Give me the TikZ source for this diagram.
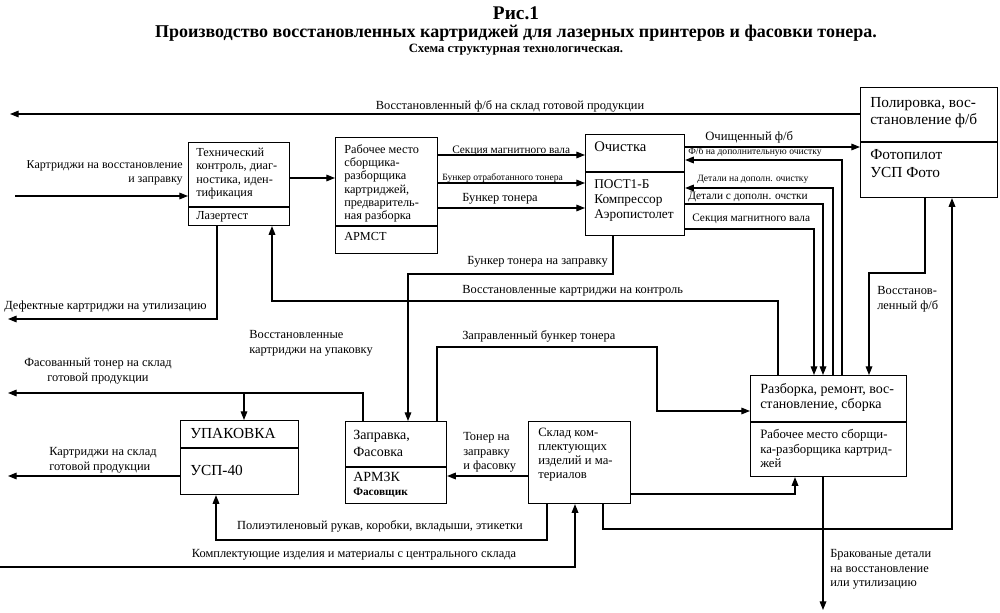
\documentclass[tikz,border=0pt]{standalone}
\usepackage{fontspec}
\setmainfont{Liberation Serif}
\usetikzlibrary{arrows.meta}
\newcommand{\fs}[2]{\fontsize{#1}{#2}\selectfont}
\newcommand{\divider}[2]{ \draw[wire] (#1.west |- 0,#2) -- (#1.east |- 0,#2);}
\tikzset{
  box/.style 2 args={draw, line width=0.85pt, anchor=north west, inner sep=0pt, minimum width=#1*0.75pt, minimum height=#2*0.75pt},
  btext/.style={anchor=north west, inner sep=0pt, align=left, font=\fs{9.2}{10}},
  lbl/.style={inner sep=0pt, font=\fs{9.3}{11}},
  tiny/.style={inner sep=0pt, font=\fs{7.2}{8.5}},
  wire/.style={line width=0.85pt},
  flow/.style={line width=0.85pt, -{Triangle[length=6.5pt,width=5pt]}},
}
\begin{document}
\begin{tikzpicture}[x=0.75pt,y=-0.75pt]
        \useasboundingbox (0,0) rectangle (1000,613);
        % title
        \node[font=\fs{14.5}{16}\bfseries] (fig) at (516,13) {Рис.1};
        \node[font=\fs{13.5}{15}\bfseries] (ttl) at (516,33) {Производство восстановленных картриджей для лазерных принтеров и фасовки тонера.};
        \node[font=\fs{9.5}{11}\bfseries] (sub) at (516,50) {Схема структурная технологическая.};

        % boxes
        \node[box={101}{83}] (ctrl) at (188,142) {};
        \divider{ctrl}{207}
        \node[btext] (ctrlT) at (196,148) {Технический\\контроль, диаг-\\ностика, иден-\\тификация};
        \node[btext] (ctrlB) at (196,211) {Лазертест};

        \node[box={102}{116}] (dis) at (335,137) {};
        \divider{dis}{226}
        \node[btext] (disT) at (344,144) {Рабочее место\\сборщика-\\разборщика\\картриджей,\\предваритель-\\ная разборка};
        \node[btext] (disB) at (344,232) {АРМСТ};

        \node[box={99}{101}] (clean) at (585,134) {};
        \divider{clean}{172}
        \node[btext, font=\fs{11}{13}] (cleanT) at (594,142) {Очистка};
        \node[btext, font=\fs{10}{11.3}] (cleanB) at (594,179) {ПОСТ1-Б\\Компрессор\\Аэропистолет};

        \node[box={137}{110}] (pol) at (860,87) {};
        \divider{pol}{142}
        \node[btext, font=\fs{11.5}{13}] (polT) at (870,97) {Полировка, вос-\\становление ф/б};
        \node[btext, font=\fs{11.5}{13.5}] (polB) at (870,149) {Фотопилот\\УСП Фото};

        \node[box={156}{101}] (rep) at (750,375) {};
        \divider{rep}{422}
        \node[btext, font=\fs{10.5}{11.3}] (repT) at (760,383) {Разборка, ремонт, вос-\\становление, сборка};
        \node[btext, font=\fs{9.6}{11}] (repB) at (760,429) {Рабочее место сборщи-\\ка-разборщика картрид-\\жей};

        \node[box={118}{74}] (pack) at (180,420) {};
        \divider{pack}{448}
        \node[btext, font=\fs{11.5}{13}] (packT) at (190,428) {УПАКОВКА};
        \node[btext, font=\fs{11.5}{13}] (packB) at (190,465) {УСП-40};

        \node[box={101}{82}] (fill) at (345,421) {};
        \divider{fill}{467}
        \node[btext, font=\fs{10.5}{12.5}] (fillT) at (353,430) {Заправка,\\Фасовка};
        \node[btext, font=\fs{10.5}{12}] (fillB) at (353,472) {АРМЗК};
        \node[btext, font=\fs{8.5}{9}\bfseries] (fillC) at (353,488) {Фасовщик};

        \node[box={102}{82}] (store) at (528,421) {};
        \node[btext, font=\fs{9.5}{10.5}] (storeT) at (538,428) {Склад ком-\\плектующих\\изделий и ма-\\териалов};

        % free ends
        \coordinate (outTop) at (10,114);
        \coordinate (inCart) at (15,196);
        \coordinate (outDef) at (8,319);
        \coordinate (outToner) at (8,393);
        \coordinate (split) at (244,393);
        \coordinate (outCart) at (8,476);
        \coordinate (inMat) at (0,567);
        \coordinate (outRej) at (823,610);

        % flows
        \draw[flow] (pol.west |- 0,114) -- (outTop);
        \draw[flow] (inCart) -- (ctrl.west |- inCart);
        \draw[flow] (ctrl.east |- 0,178) -- (dis.west |- 0,178);
        \draw[flow] (ctrl.south -| 217,0) |- (outDef);
        \draw[flow] (rep.north -| 778,0) |- (272,301) -- (ctrl.south -| 272,0);
        \draw[flow] (dis.east |- 0,155) -- (clean.west |- 0,155);
        \draw[flow] (dis.east |- 0,183) -- (clean.west |- 0,183);
        \draw[flow] (dis.east |- 0,208) -- (clean.west |- 0,208);
        \draw[flow] (clean.south -| 613,0) |- (408,274) -- (fill.north -| 408,0);
        \draw[flow] (clean.east |- 0,147) -- (pol.west |- 0,147);
        \draw[flow] (rep.north -| 842,0) |- (clean.east |- 0,160);
        \draw[flow] (rep.north -| 833,0) |- (clean.east |- 0,188);
        \draw[flow] (clean.east |- 0,204) -| (rep.north -| 823,0);
        \draw[flow] (clean.east |- 0,229) -| (rep.north -| 814,0);
        \draw[flow] (pol.south -| 925,0) |- (869,273) -- (rep.north -| 869,0);
        \draw[flow] (store.south -| 603,0) |- (952,529) -- (pol.south -| 952,0);
        \draw[flow] (store.east |- 0,494) -| (rep.south -| 795,0);
        \draw[flow] (rep.south -| 823,0) -- (outRej);
        \draw[flow] (fill.north -| 437,0) |- (657,347) |- (rep.west |- 0,411);
        \draw[flow] (store.west |- 0,476) -- (fill.east |- 0,476);
        \draw[flow] (fill.north -| 363,0) |- (outToner);
        \draw[flow] (split) -- (pack.north -| split);
        \draw[flow] (pack.west |- 0,476) -- (outCart);
        \draw[flow] (store.south -| 547,0) |- (216,540) -- (pack.south -| 216,0);
        \draw[flow] (inMat) -| (store.south -| 575,0);

        % text
        \node[lbl] (lTop) at (510,106) {Восстановленный ф/б на склад готовой продукции};
        \node[lbl, font=\fs{9}{11}, align=right, anchor=north east] (lIn) at (183,160) {Картриджи на восстановление\\и заправку};
        \node[lbl, anchor=west] (lDef) at (4,307) {Дефектные картриджи на утилизацию};
        \node[lbl, anchor=west] (lBack) at (462,291) {Восстановленные картриджи на контроль};
        \node[lbl, font=\fs{8.5}{10}, anchor=west] (lSec1) at (452,151) {Секция магнитного вала};
        \node[tiny, anchor=west] (lBunk1) at (442,178) {Бункер отработанного тонера};
        \node[lbl, anchor=west] (lBunk2) at (462,199) {Бункер тонера};
        \node[lbl, anchor=east] (lRefill) at (608,262) {Бункер тонера на заправку};
        \node[lbl, font=\fs{9.5}{11}, anchor=west] (lClean) at (705,137) {Очищенный ф/б};
        \node[tiny, anchor=west] (lExtra1) at (688,152) {Ф/б на дополнительную очистку};
        \node[tiny, anchor=west] (lExtra2) at (697,179) {Детали на дополн. очистку};
        \node[lbl, font=\fs{8.5}{10}, anchor=west] (lExtra3) at (688,197) {Детали с дополн. очстки};
        \node[lbl, font=\fs{8.5}{10}, anchor=west] (lSec2) at (692,219) {Секция магнитного вала};
        \node[lbl, align=left, anchor=north west] (lPol) at (877,286) {Восстанов-\\ленный ф/б};
        \node[lbl, align=left, anchor=north west] (lRej) at (830,549) {Бракованые детали\\на восстановление\\или утилизацию};
        \node[lbl, anchor=west] (lFilled) at (462,336) {Заправленный бункер тонера};
        \node[lbl, align=left, anchor=north west] (lToner) at (463,432) {Тонер на\\заправку\\и фасовку};
        \node[lbl, align=center, anchor=north] (lPacked) at (98,358) {Фасованный тонер на склад\\готовой продукции};
        \node[lbl, align=left, anchor=north west] (lToPack) at (249,330) {Восстановленные\\картриджи на упаковку};
        \node[lbl, align=left, anchor=north west] (lCart) at (49,447) {Картриджи на склад\\готовой продукции};
        \node[lbl] (lPoly) at (380,526) {Полиэтиленовый рукав, коробки, вкладыши, этикетки};
        \node[lbl] (lMat) at (354,555) {Комплектующие изделия и материалы с центрального склада};
    \end{tikzpicture}
\end{document}
